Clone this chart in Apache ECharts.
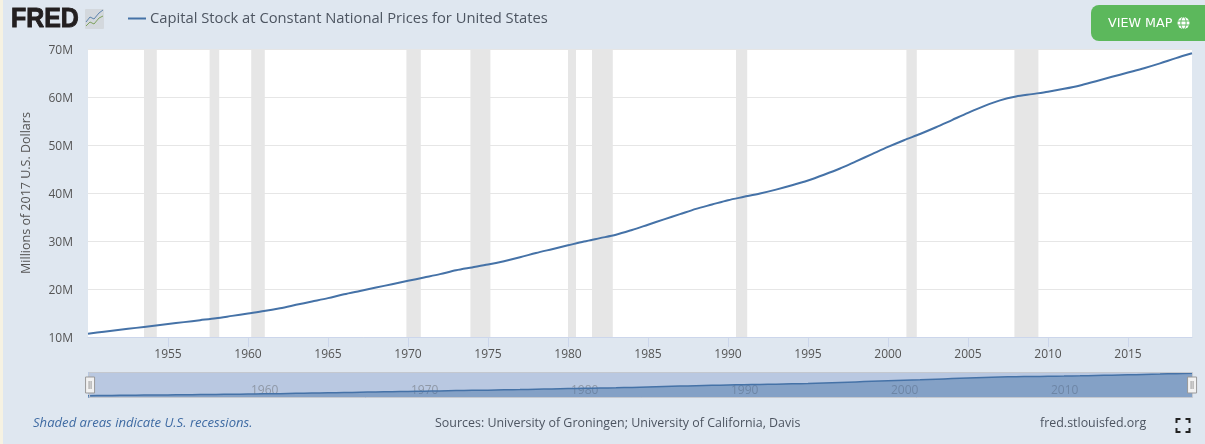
<!DOCTYPE html>
<html>
<head>
<meta charset="utf-8">
<title>Capital Stock at Constant National Prices for United States</title>
<script src="https://cdn.jsdelivr.net/npm/echarts@6/dist/echarts.min.js"></script>
<style>
  html, body { margin: 0; padding: 0; background: #dfe7f0; }
  #chart { width: 1205px; height: 444px; }
</style>
</head>
<body>
<div id="chart"></div>
<script>
var seriesName = 'Capital Stock at Constant National Prices for United States'
var yAxisName = 'Millions of 2017 U.S. Dollars'

var years = [
  1950, 1951, 1952, 1953, 1954, 1955, 1956, 1957, 1958, 1959,
  1960, 1961, 1962, 1963, 1964, 1965, 1966, 1967, 1968, 1969,
  1970, 1971, 1972, 1973, 1974, 1975, 1976, 1977, 1978, 1979,
  1980, 1981, 1982, 1983, 1984, 1985, 1986, 1987, 1988, 1989,
  1990, 1991, 1992, 1993, 1994, 1995, 1996, 1997, 1998, 1999,
  2000, 2001, 2002, 2003, 2004, 2005, 2006, 2007, 2008, 2009,
  2010, 2011, 2012, 2013, 2014, 2015, 2016, 2017, 2018, 2019
]
// millions of dollars, in M
var capitalStock = [
  10.7, 11.1, 11.5, 11.9, 12.3, 12.7, 13.1, 13.5, 13.9, 14.4,
  14.9, 15.4, 16.0, 16.7, 17.4, 18.1, 18.9, 19.6, 20.3, 21.0,
  21.7, 22.4, 23.1, 23.9, 24.5, 25.1, 25.8, 26.6, 27.5, 28.3,
  29.1, 29.9, 30.6, 31.3, 32.3, 33.4, 34.5, 35.6, 36.7, 37.6,
  38.5, 39.2, 39.9, 40.7, 41.6, 42.6, 43.8, 45.1, 46.6, 48.1,
  49.6, 51.0, 52.3, 53.7, 55.2, 56.7, 58.1, 59.3, 60.1, 60.6,
  61.1, 61.7, 62.4, 63.3, 64.2, 65.1, 66.0, 67.0, 68.1, 69.1
]
var recessionStart = [1953.5, 1957.6, 1960.2, 1969.9, 1973.9, 1980.0, 1981.5, 1990.5, 2001.15, 2007.9]
var recessionEnd = [1954.3, 1958.2, 1961.05, 1970.8, 1975.15, 1980.5, 1982.8, 1991.2, 2001.8, 2009.4]
var xTicks = [1955, 1960, 1965, 1970, 1975, 1980, 1985, 1990, 1995, 2000, 2005, 2010, 2015]
var navTicks = [1960, 1970, 1980, 1990, 2000, 2010]

var font = '"Open Sans", sans-serif'
var lineData = years.map(function (y, i) { return [y, capitalStock[i]] })
var recessions = recessionStart.map(function (s, i) {
  return [{ xAxis: s }, { xAxis: recessionEnd[i] }]
})
function yearLabel (v) { return String(v) }

var chart = echarts.init(document.getElementById('chart'))
chart.setOption({
  animation: false,
  backgroundColor: '#dfe7f0',
  legend: {
    data: [{ name: seriesName, icon: 'rect', itemStyle: { color: '#4572a7' } }],
    left: 128,
    top: 11,
    padding: 0,
    itemWidth: 18,
    itemHeight: 2,
    selectedMode: false,
    textStyle: { fontFamily: font, fontSize: 14.75, color: '#4d5561', padding: [0, 0, 0, -1] }
  },
  grid: [
    { left: 88, right: 13, top: 49, bottom: 107, show: true, backgroundColor: '#fff', borderWidth: 0 },
    { left: 88, right: 13, top: 372, bottom: 46, show: true, backgroundColor: '#b9c8e1', borderWidth: 0 }
  ],
  xAxis: [
    {
      type: 'value',
      min: 1950,
      max: 2019,
      gridIndex: 0,
      splitLine: { show: false },
      axisLine: { show: true, lineStyle: { color: '#ccd6eb', width: 1 } },
      axisTick: { show: true, length: 10, customValues: xTicks, lineStyle: { color: '#ccd6eb' } },
      axisLabel: { customValues: xTicks, margin: 12, color: '#555', fontFamily: font, fontSize: 12, formatter: yearLabel }
    },
    {
      type: 'value',
      min: 1950,
      max: 2019,
      gridIndex: 1,
      splitLine: { show: false },
      axisLine: { show: false },
      axisTick: { show: false },
      axisLabel: { customValues: navTicks, inside: true, margin: 1, align: 'left', padding: [0, 0, 0, 3], color: '#8f98a6', fontFamily: font, fontSize: 12, formatter: yearLabel }
    }
  ],
  yAxis: [
    {
      type: 'value',
      min: 10,
      max: 70,
      interval: 10,
      gridIndex: 0,
      name: yAxisName,
      nameLocation: 'middle',
      nameGap: 55,
      nameTextStyle: { color: '#555', fontFamily: font, fontSize: 12.5 },
      axisLine: { show: false },
      axisTick: { show: false },
      splitLine: { lineStyle: { color: '#e6e6e6' } },
      axisLabel: { margin: 15, color: '#555', fontFamily: font, fontSize: 12, verticalAlign: 'top', lineHeight: 3, formatter: '{value}M' }
    },
    {
      type: 'value',
      min: 4.6,
      max: 72.4,
      gridIndex: 1,
      axisLine: { show: false },
      axisTick: { show: false },
      splitLine: { show: false },
      axisLabel: { show: false }
    }
  ],
  dataZoom: [
    {
      type: 'slider',
      xAxisIndex: [0, 1],
      filterMode: 'none',
      start: 0,
      end: 100,
      left: 88,
      right: 13,
      top: 372,
      height: 26,
      showDetail: false,
      showDataShadow: false,
      brushSelect: false,
      realtime: true,
      moveHandleSize: 0,
      backgroundColor: 'transparent',
      fillerColor: 'transparent',
      borderColor: '#c4c8cf',
      borderRadius: 0,
      handleIcon: 'path://M0 0H9V16H0Z M3.5 4V12 M5.5 4V12',
      handleSize: 16,
      handleStyle: { color: '#f2f2f2', borderColor: '#999', borderWidth: 1 }
    }
  ],
  series: [
    {
      name: seriesName,
      type: 'line',
      xAxisIndex: 0,
      yAxisIndex: 0,
      data: lineData,
      symbol: 'none',
      smooth: 0.3,
      lineStyle: { color: '#4572a7', width: 2 },
      itemStyle: { color: '#4572a7' },
      markArea: {
        silent: true,
        itemStyle: { color: '#e6e6e6' },
        data: recessions
      }
    },
    {
      name: 'navigator',
      type: 'line',
      xAxisIndex: 1,
      yAxisIndex: 1,
      data: lineData,
      symbol: 'none',
      smooth: 0.3,
      lineStyle: { color: '#4572a7', width: 1.5 },
      areaStyle: { color: '#4572a7', opacity: 0.45, origin: 'start' }
    }
  ],
  graphic: [
    { type: 'rect', left: 0, top: 0, shape: { width: 3, height: 444 }, style: { fill: '#f6f2e2' }, silent: true },
    // FRED logo
    { type: 'text', x: 11, y: 5, scaleX: 0.89, style: { text: 'FRED', fontFamily: '"Liberation Sans", Arial, sans-serif', fontWeight: 'bold', fontSize: 28, fill: '#231f20', stroke: '#231f20', lineWidth: 1 }, silent: true },
    {
      type: 'group', x: 85, y: 9, silent: true,
      children: [
        { type: 'rect', shape: { width: 19, height: 20, r: 1 }, style: { fill: '#d3d8dd' } },
        { type: 'polyline', shape: { points: [[1, 13], [5, 8], [9, 10], [14, 4], [18, 1]] }, style: { fill: 'none', stroke: '#5b83ad', lineWidth: 1 } },
        { type: 'polyline', shape: { points: [[1, 17], [5, 13], [9, 15], [14, 9], [18, 7]] }, style: { fill: 'none', stroke: '#7ea25d', lineWidth: 1 } }
      ]
    },
    // VIEW MAP button
    { type: 'rect', shape: { x: 1091, y: 5, width: 124, height: 36, r: 8 }, style: { fill: '#5cb85c' }, silent: true },
    { type: 'text', x: 1108, y: 17, style: { text: 'VIEW MAP', fontFamily: '"DejaVu Sans", sans-serif', fontSize: 12.7, fill: '#fff' }, silent: true },
    {
      type: 'group', x: 1183.5, y: 23, silent: true,
      children: [
        { type: 'circle', shape: { r: 6 }, style: { fill: '#fff' } },
        { type: 'ellipse', shape: { rx: 2.6, ry: 6 }, style: { fill: 'none', stroke: '#5cb85c', lineWidth: 1 } },
        { type: 'line', shape: { x1: -6, y1: -2, x2: 6, y2: -2 }, style: { stroke: '#5cb85c', lineWidth: 1 } },
        { type: 'line', shape: { x1: -6, y1: 2, x2: 6, y2: 2 }, style: { stroke: '#5cb85c', lineWidth: 1 } }
      ]
    },
    // footer
    { type: 'text', x: 33, y: 417, style: { text: 'Shaded areas indicate U.S. recessions.', fontFamily: font, fontStyle: 'italic', fontSize: 13.1, fill: '#3f6ba3' }, silent: true },
    { type: 'text', x: 435, y: 417, style: { text: 'Sources: University of Groningen; University of California, Davis', fontFamily: font, fontSize: 12.45, fill: '#4d5561' }, silent: true },
    { type: 'text', x: 1040, y: 417, style: { text: 'fred.stlouisfed.org', fontFamily: font, fontSize: 12.45, fill: '#4d5561' }, silent: true },
    // fullscreen icon
    {
      type: 'group', x: 1176.5, y: 419, silent: true,
      children: [
        { type: 'polyline', shape: { points: [[0, 4], [0, 0], [4, 0]] }, style: { fill: 'none', stroke: '#222', lineWidth: 2 } },
        { type: 'polyline', shape: { points: [[9, 0], [13, 0], [13, 4]] }, style: { fill: 'none', stroke: '#222', lineWidth: 2 } },
        { type: 'polyline', shape: { points: [[0, 9], [0, 13], [4, 13]] }, style: { fill: 'none', stroke: '#222', lineWidth: 2 } },
        { type: 'polyline', shape: { points: [[9, 13], [13, 13], [13, 9]] }, style: { fill: 'none', stroke: '#222', lineWidth: 2 } }
      ]
    }
  ]
})
</script>
</body>
</html>
